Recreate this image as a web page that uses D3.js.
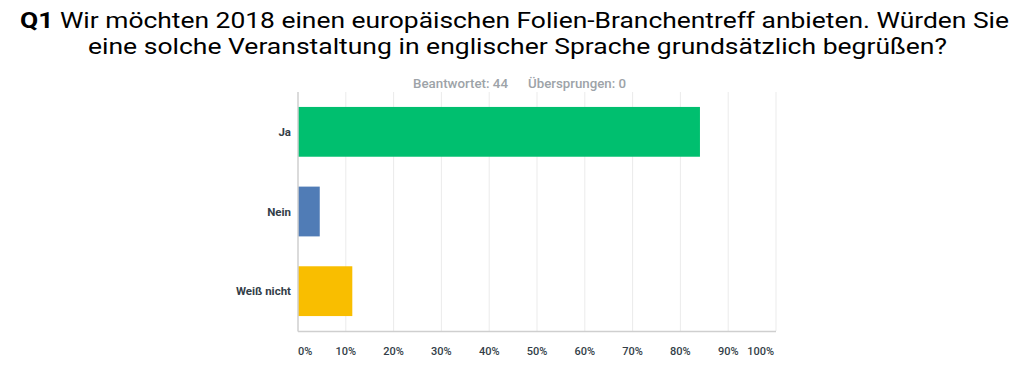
<!DOCTYPE html>
<html lang="de">
<head>
<meta charset="UTF-8"/>
<title>Q1</title>
<script src="https://d3js.org/d3.v7.min.js"></script>
<style>
  body { margin: 0; background: #fff; }
  text { font-family: Roboto, "Open Sans", sans-serif; }
</style>
</head>
<body>
<script>
var categories = ["Ja", "Nein", "Weiß nicht"];
var values = [84.09, 4.55, 11.36];
var colors = ["#00bf6f", "#507cb6", "#f9be00"];
var ticks = [0, 10, 20, 30, 40, 50, 60, 70, 80, 90, 100];
var titleLines = ["Wir möchten 2018 einen europäischen Folien-Branchentreff anbieten. Würden Sie",
                  "eine solche Veranstaltung in englischer Sprache grundsätzlich begrüßen?"];

var w = 1024, h = 386;
var plotLeft = 298, plotRight = 776, plotTop = 92, plotBottom = 331;

var svg = d3.select("body").append("svg")
    .attr("width", w)
    .attr("height", h);

// title
var t1 = svg.append("text")
    .attr("y", 28)
    .attr("font-size", 22)
    .attr("font-weight", 400)
    .attr("fill", "#000");
t1.append("tspan").attr("font-weight", 700).text("Q1 ");
t1.append("tspan").text(titleLines[0]);
var t2 = svg.append("text")
    .attr("y", 54)
    .attr("font-size", 22)
    .attr("font-weight", 400)
    .attr("fill", "#000")
    .text(titleLines[1]);

function fitText(sel, x0, x1) {
    sel.attr("x", x0).attr("textLength", x1 - x0).attr("lengthAdjust", "spacingAndGlyphs");
}
fitText(t1, 20, 1009);
fitText(t2, 88, 947);

// subtitle
svg.append("text")
    .attr("x", 413).attr("y", 88)
    .attr("font-size", 12.5).attr("font-weight", 500).attr("fill", "#9da3a8")
    .attr("textLength", 95).attr("lengthAdjust", "spacingAndGlyphs")
    .text("Beantwortet: 44");
svg.append("text")
    .attr("x", 528).attr("y", 88)
    .attr("font-size", 12.5).attr("font-weight", 500).attr("fill", "#9da3a8")
    .attr("textLength", 98).attr("lengthAdjust", "spacingAndGlyphs")
    .text("Übersprungen: 0");

var xScale = d3.scaleLinear().domain([0, 100]).range([plotLeft, plotRight]);
var yScale = d3.scaleBand().domain(categories).range([plotTop, plotBottom]).paddingInner(0.375).paddingOuter(0.1875);

// grid
svg.selectAll("line.grid")
    .data(ticks.slice(1))
    .enter().append("line")
    .attr("class", "grid")
    .attr("x1", d => xScale(d)).attr("x2", d => xScale(d))
    .attr("y1", plotTop).attr("y2", plotBottom)
    .attr("stroke", "#ebebeb").attr("stroke-width", 1);

// bars
svg.selectAll("rect.bar")
    .data(values)
    .enter().append("rect")
    .attr("class", "bar")
    .attr("x", xScale(0))
    .attr("y", (d, i) => yScale(categories[i]))
    .attr("width", d => xScale(d) - xScale(0))
    .attr("height", yScale.bandwidth())
    .attr("fill", (d, i) => colors[i]);

// axis lines
svg.append("line")
    .attr("x1", plotLeft).attr("x2", plotLeft).attr("y1", plotTop).attr("y2", plotBottom + 0.5)
    .attr("stroke", "#cfcfcf").attr("stroke-width", 1.5);
svg.append("line")
    .attr("x1", plotLeft).attr("x2", plotRight).attr("y1", plotBottom + 0.5).attr("y2", plotBottom + 0.5)
    .attr("stroke", "#cfcfcf").attr("stroke-width", 1.5);

// category labels
svg.selectAll("text.cat")
    .data(categories)
    .enter().append("text")
    .attr("class", "cat")
    .attr("x", 291)
    .attr("y", d => yScale(d) + yScale.bandwidth() / 2 + 4)
    .attr("text-anchor", "end")
    .attr("font-size", 11.5).attr("font-weight", 700)
    .attr("fill", "#333e48")
    .text(d => d);

// tick labels
svg.selectAll("text.tick")
    .data(ticks)
    .enter().append("text")
    .attr("class", "tick")
    .attr("x", d => d === 0 ? xScale(d) : d === 100 ? xScale(d) - 2 : xScale(d))
    .attr("y", 355)
    .attr("text-anchor", d => d === 0 ? "start" : d === 100 ? "end" : "middle")
    .attr("font-size", 11).attr("font-weight", 500)
    .attr("fill", "#333e48")
    .text(d => d + "%");
</script>
</body>
</html>
